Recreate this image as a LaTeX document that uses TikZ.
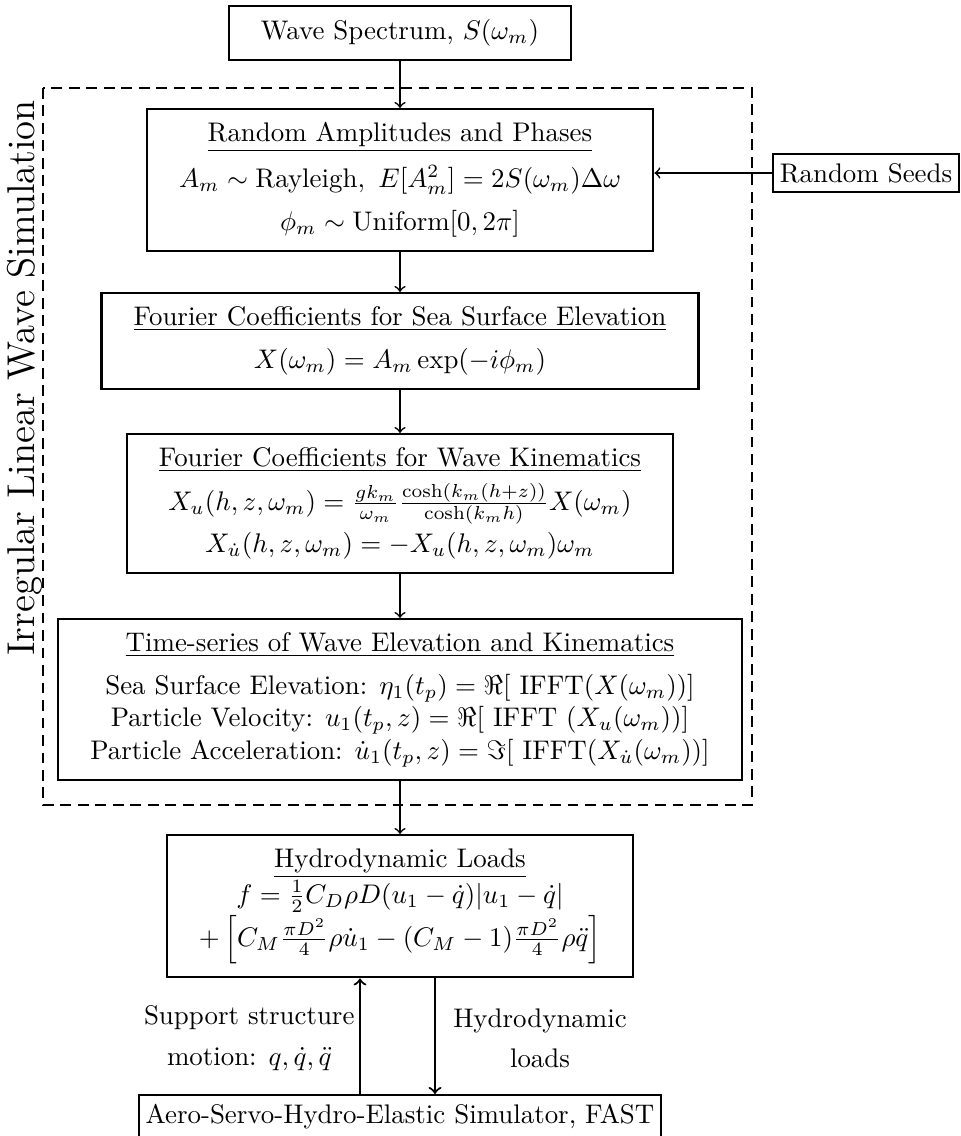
\documentclass[tikz,border=0pt]{standalone}
\usepackage{amsmath}
\usepackage{amssymb}
\begin{document}
\begin{tikzpicture}[x=0.3717pt, y=-0.3717pt,
    stagebox/.style={draw, thick, align=center, inner xsep=12pt, inner ysep=5pt, anchor=north},
    smallbox/.style={draw, thick, inner xsep=2.5pt, inner ysep=3.5pt},
    flow/.style={semithick, ->},
    loadflow/.style={thick, ->},
    sidelabel/.style={align=center, inner sep=0pt}]
    \useasboundingbox (0,0) rectangle (961,1136);
    \coordinate (motionx) at (360,0);
    \coordinate (loadx) at (435,0);
    \draw[thick, dash pattern=on 4pt off 2.5pt] (43,88) rectangle (752,805);
    \node[rotate=90, font=\Large] (simlabel) at (25,378) {Irregular Linear Wave Simulation};
    \node[stagebox] (spec) at (400,5) {Wave Spectrum, $S(\omega_m)$};
    \node[stagebox] (ampl) at (400,108) {\underline{Random Amplitudes and Phases}\\[4pt]
        $A_m\sim\text{Rayleigh},\ E[A_m^2]=2S(\omega_m)\Delta\omega$\\[4pt]
        $\phi_m\sim\text{Uniform}[0,2\pi]$};
    \node[smallbox, anchor=east] (seeds) at (960,173) {Random Seeds};
    \node[stagebox] (sse) at (400,292) {\underline{Fourier Coefficients for Sea Surface Elevation}\\[4pt]
        $X(\omega_m)=A_m\exp(-i\phi_m)$};
    \node[stagebox] (kin) at (400,433) {\underline{Fourier Coefficients for Wave Kinematics}\\[3pt]
        $X_u(h,z,\omega_m)=\frac{gk_m}{\omega_m}\frac{\cosh(k_m(h+z))}{\cosh(k_mh)}X(\omega_m)$\\[2pt]
        $X_{\dot u}(h,z,\omega_m)=-X_u(h,z,\omega_m)\omega_m$};
    \node[stagebox] (series) at (400,618) {\underline{Time-series of Wave Elevation and Kinematics}\\[4pt]
        Sea Surface Elevation: $\eta_1(t_p)=\Re[\ \text{IFFT}(X(\omega_m))]$\\
        Particle Velocity: $u_1(t_p,z)=\Re[\ \text{IFFT}\ (X_u(\omega_m))]$\\
        Particle Acceleration: $\dot{u}_1(t_p,z)=\Im[\ \text{IFFT}(X_{\dot u}(\omega_m))]$};
    \node[stagebox] (loads) at (400,834) {\underline{Hydrodynamic Loads}\\
        $f=\frac{1}{2}C_D\rho D(u_1-\dot q)|u_1-\dot q|$\\
        $+\left[C_M\frac{\pi D^2}{4}\rho\dot{u}_1-(C_M-1)\frac{\pi D^2}{4}\rho\ddot q\right]$};
    \node[smallbox, anchor=north] (fast) at (400,1094) {Aero-Servo-Hydro-Elastic Simulator, FAST};
    \draw[flow] (spec) -- (ampl);
    \draw[flow] (seeds.west) -- (seeds.west -| ampl.east);
    \draw[flow] (ampl) -- (sse);
    \draw[flow] (sse) -- (kin);
    \draw[flow] (kin) -- (series);
    \draw[flow] (series) -- (loads);
    \draw[loadflow] (fast.north -| motionx) -- (loads.south -| motionx);
    \draw[loadflow] (loads.south -| loadx) -- (fast.north -| loadx);
    \node[sidelabel, anchor=east] (motionlbl) at (355,1038) {Support structure\\[3pt] motion: $q,\dot q,\ddot q$};
    \node[sidelabel] (loadlbl) at (540,1038) {Hydrodynamic\\[3pt] loads};
\end{tikzpicture}
\end{document}
